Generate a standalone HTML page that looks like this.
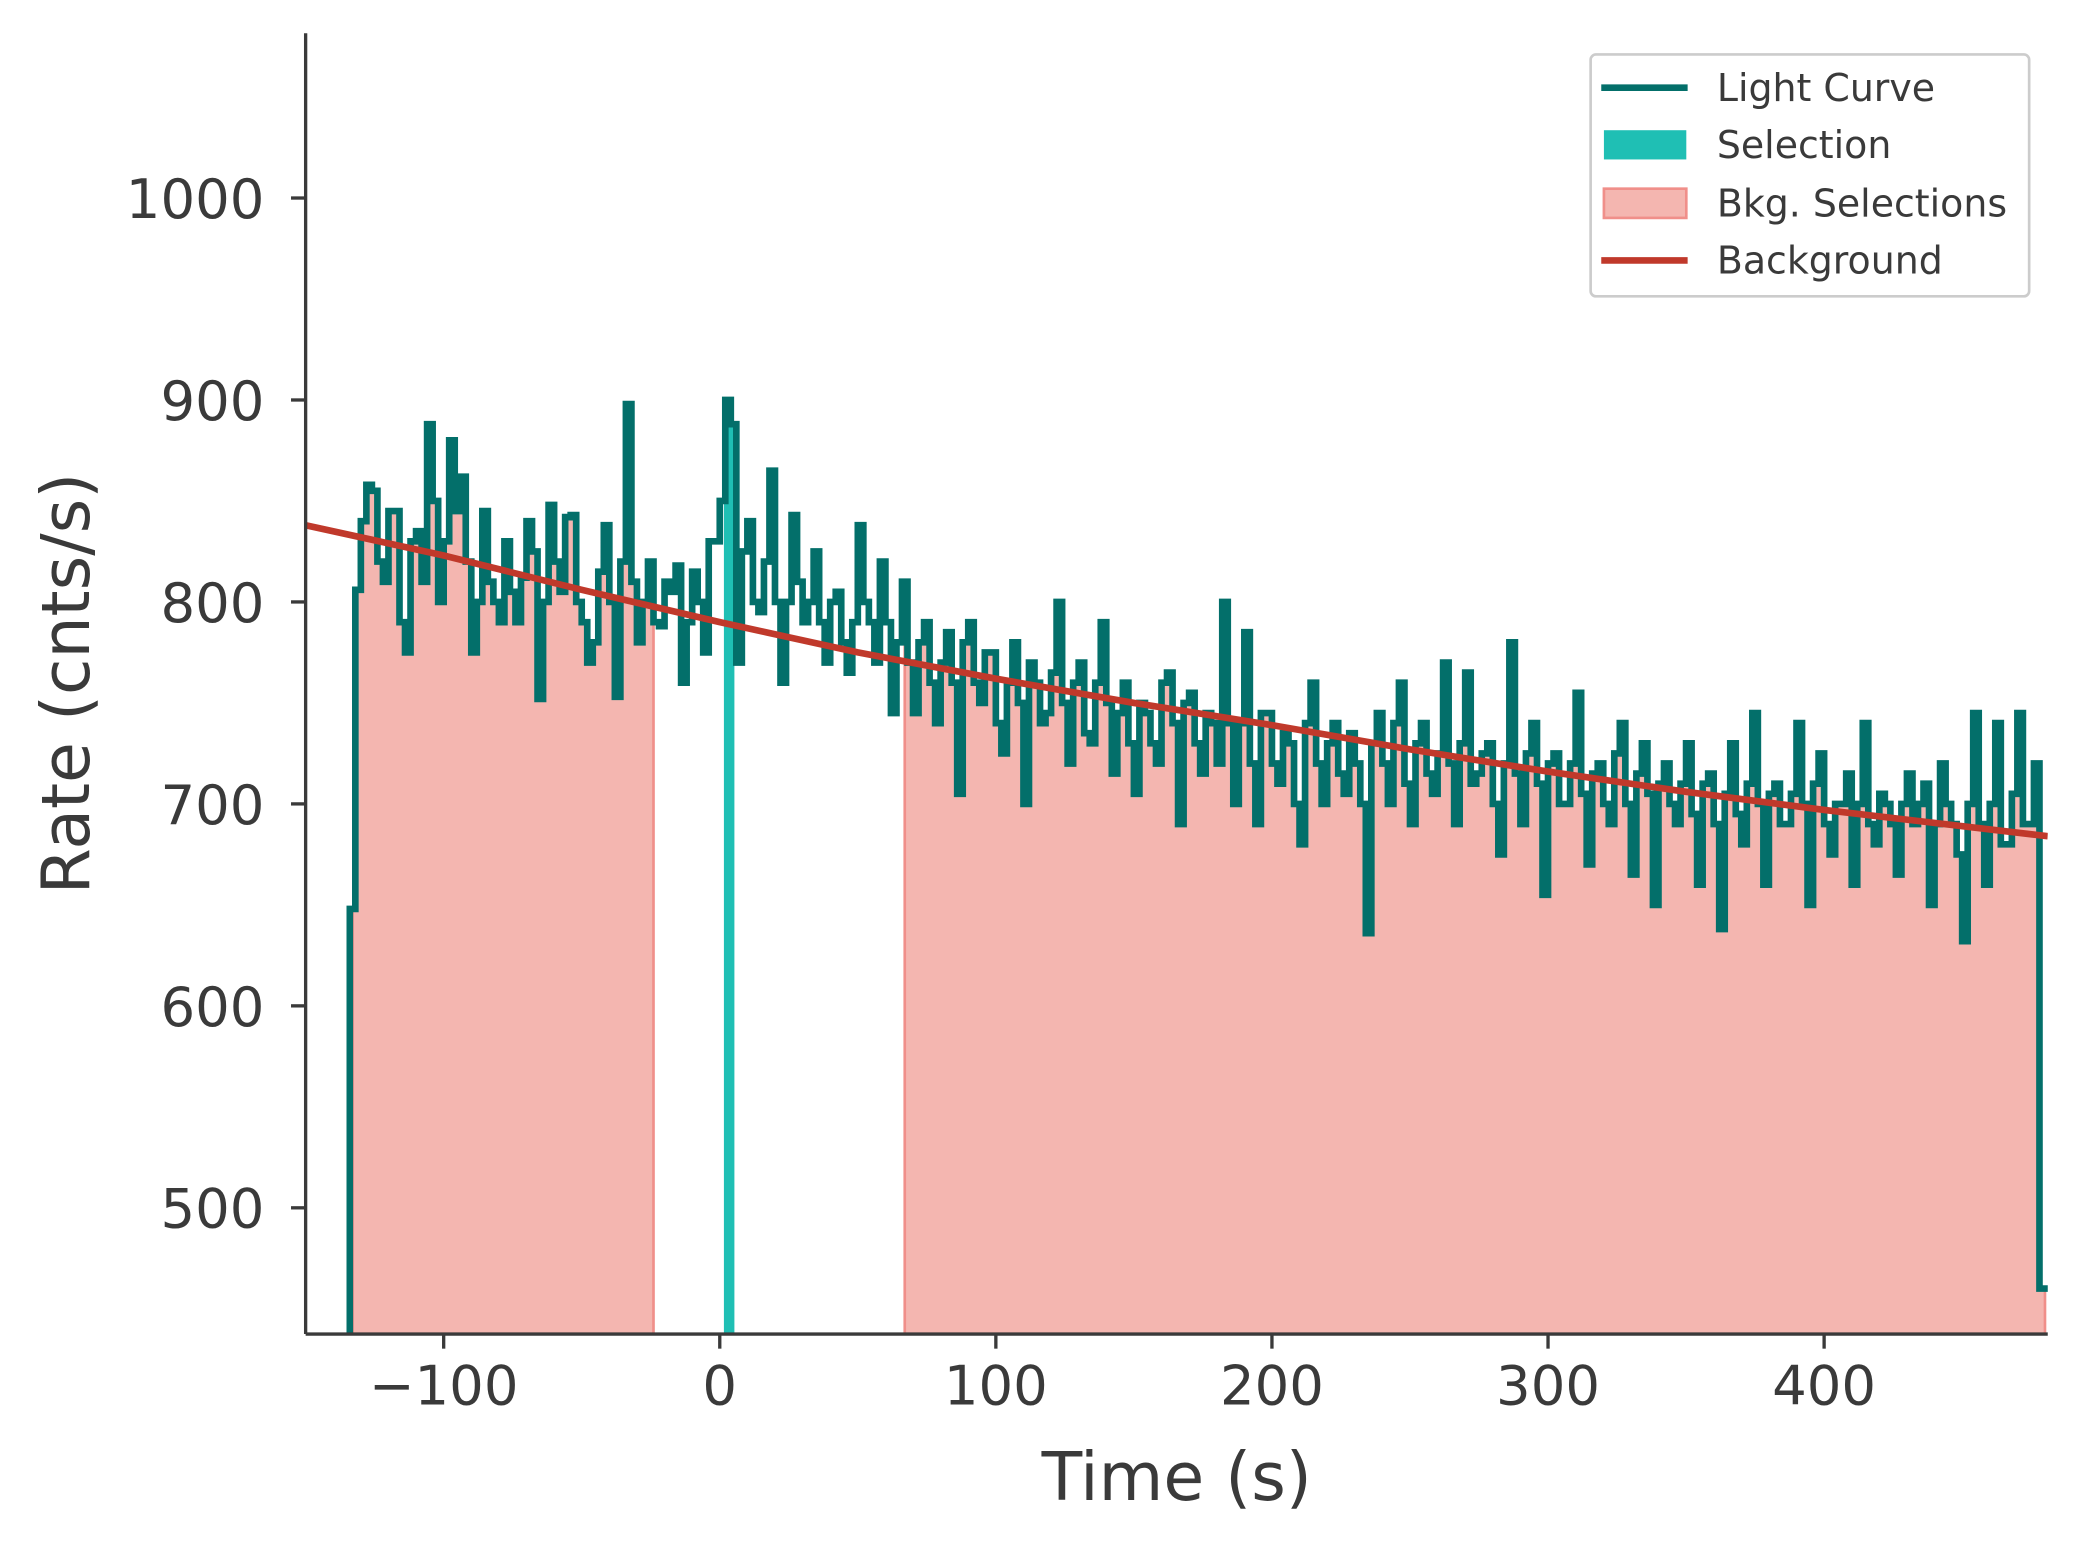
<!DOCTYPE html>
<html><head><meta charset="utf-8"><style>
html,body{margin:0;padding:0;background:#fff;}
svg text{font-family:"DejaVu Sans","Liberation Sans",sans-serif;fill:#3a3a3a;}
</style></head><body>
<svg id="chart" width="2073" height="1540" viewBox="0 0 1560 1159" preserveAspectRatio="none" xmlns="http://www.w3.org/2000/svg">
<defs><clipPath id="plotclip"><rect x="230" y="25" width="1311" height="979"/></clipPath></defs>
<g id="fills" clip-path="url(#plotclip)"></g>
<g id="lines" clip-path="url(#plotclip)"></g>
<g id="axes"></g>
<g>
<rect x="1197" y="41" width="330" height="182" rx="4" fill="#fff" fill-opacity="0.8" stroke="#ccc" stroke-width="2"/>
<line x1="1205" y1="66" x2="1270" y2="66" stroke="#036f6a" stroke-width="5"/>
<text x="1292" y="76" font-size="28.5">Light Curve</text>
<rect x="1207" y="98" width="62" height="22" fill="#1fbfb4"/>
<text x="1292" y="119" font-size="28.5">Selection</text>
<rect x="1207" y="142" width="62" height="22" fill="#f4b6b0" stroke="#f08f8a" stroke-width="2"/>
<text x="1292" y="163" font-size="28.5">Bkg. Selections</text>
<line x1="1205" y1="196" x2="1270" y2="196" stroke="#c0392b" stroke-width="5"/>
<text x="1292" y="206" font-size="28.5">Background</text>
</g>
</svg>
<script>
const binStart = -134;
const binWidth = 2;
const rates = [
648,806,840,858,855,820,810,845,845,790,775,830,835,810,888,850,800,830,880,845,
862,820,775,800,845,810,800,790,830,805,790,812,840,825,752,800,848,820,805,842,
843,800,790,770,780,815,838,800,753,820,898,810,780,800,820,790,788,810,805,818,
760,790,815,800,775,830,830,850,900,888,770,825,840,800,795,820,865,800,760,800,
843,810,790,800,825,790,770,800,805,780,765,790,838,800,790,770,820,790,745,780,
810,770,745,780,790,760,740,770,785,760,705,780,790,760,750,775,775,740,725,760,
780,750,700,770,760,740,745,765,800,750,720,760,770,735,730,760,790,750,715,745,
760,730,705,750,745,730,720,760,765,740,690,750,755,730,715,745,740,720,800,740,
700,740,785,720,690,745,745,720,710,735,730,700,680,740,760,720,700,730,740,715,
705,735,720,700,636,730,745,720,700,740,760,710,690,730,740,715,705,725,770,720,
690,730,765,710,715,725,730,700,675,720,780,715,690,725,740,710,655,720,725,700,
700,720,755,705,670,715,720,700,690,725,740,700,665,715,730,705,650,710,720,700,
690,710,730,695,660,710,715,690,638,705,730,695,680,710,745,700,660,705,710,690,
690,705,740,700,650,710,725,690,675,700,700,715,660,700,740,690,680,705,700,690,
665,700,715,690,700,710,650,690,720,700,690,675,632,700,745,690,660,700,740,680,
680,705,745,690,690,720,460,460];
const bkgTimes = [-150,-100,-50,0,50,100,150,200,250,300,350,400,481];
const bkgRates = [838,823,806,790,775,762,750,739,727,716,706,697,684];
const bkgIntervals = [[-133,-24],[67,480]];
const selInterval = [1.5,5.3];
const xTicks = [-100,0,100,200,300,400];
const yTicks = [500,600,700,800,900,1000];
const xMin=-150, xMax=481, yMin=437.5, yMax=1081.6;
const L=230,R=1541,T=25,B=1004;
const X=t=>L+(t-xMin)/(xMax-xMin)*(R-L);
const Y=v=>B-(v-yMin)/(yMax-yMin)*(B-T);
const NS="http://www.w3.org/2000/svg";
function mk(tag,attrs,parent){const e=document.createElementNS(NS,tag);for(const k in attrs)e.setAttribute(k,attrs[k]);parent.appendChild(e);return e;}
const fills=document.getElementById('fills'),lines=document.getElementById('lines'),axes=document.getElementById('axes');
function rateAt(t){let i=Math.floor((t-binStart)/binWidth);i=Math.max(0,Math.min(rates.length-1,i));return rates[i];}
function stepFill(a,b){
  let d=`M${X(a)},${Y(yMin)} L${X(a)},${Y(rateAt(a))}`;
  for(let i=1;i<rates.length;i++){const s=binStart+i*binWidth;if(s>a&&s<b){d+=` L${X(s)},${Y(rates[i-1])} L${X(s)},${Y(rates[i])}`;}}
  d+=` L${X(b)},${Y(rateAt(b-0.01))} L${X(b)},${Y(yMin)} Z`;return d;
}
bkgIntervals.forEach((iv,k)=>{
  const p=mk('path',{d:stepFill(iv[0],iv[1]),fill:'#f4b6b0',stroke:'#f08f8a','stroke-width':2},fills);
  
  
});
const sel=mk('path',{d:stepFill(selInterval[0],selInterval[1]),fill:'#1fbfb4'},fills);


let d=`M${X(binStart)},${Y(yMin)}`;
for(let i=0;i<rates.length;i++){const s=binStart+i*binWidth;d+=` L${X(s)},${Y(rates[i])} L${X(s+binWidth)},${Y(rates[i])}`;}
const lc=mk('path',{d:d,fill:'none',stroke:'#036f6a','stroke-width':5,'stroke-linejoin':'miter'},lines);


const bg=mk('polyline',{points:bkgTimes.map((t,i)=>X(t)+','+Y(bkgRates[i])).join(' '),fill:'none',stroke:'#c0392b','stroke-width':5},lines);


const ya=mk('line',{x1:L,y1:T,x2:L,y2:B,stroke:'#3a3a3a','stroke-width':2.5},axes);


const xa=mk('line',{x1:L,y1:B,x2:R,y2:B,stroke:'#3a3a3a','stroke-width':2.5},axes);


xTicks.forEach(t=>{
  mk('line',{x1:X(t),y1:B,x2:X(t),y2:B+11,stroke:'#3a3a3a','stroke-width':2.5},axes);
  const tx=mk('text',{x:X(t),y:B+53,'font-size':41,'text-anchor':'middle'},axes);
  tx.textContent=t<0?'\u2212'+Math.abs(t):String(t);
  
  
});
yTicks.forEach(v=>{
  mk('line',{x1:L-11,y1:Y(v),x2:L,y2:Y(v),stroke:'#3a3a3a','stroke-width':2.5},axes);
  const tx=mk('text',{x:L-31,y:Y(v)+15,'font-size':41,'text-anchor':'end'},axes);
  tx.textContent=String(v);
  
  
});
const xl=mk('text',{x:(L+R)/2,y:1129,'font-size':50,'text-anchor':'middle'},axes);
xl.textContent='Time (s)';


const yl=mk('text',{x:0,y:0,'font-size':50,'text-anchor':'middle',transform:`translate(67,${(T+B)/2}) rotate(-90)`},axes);
yl.textContent='Rate (cnts/s)';


</script>
</body></html>
